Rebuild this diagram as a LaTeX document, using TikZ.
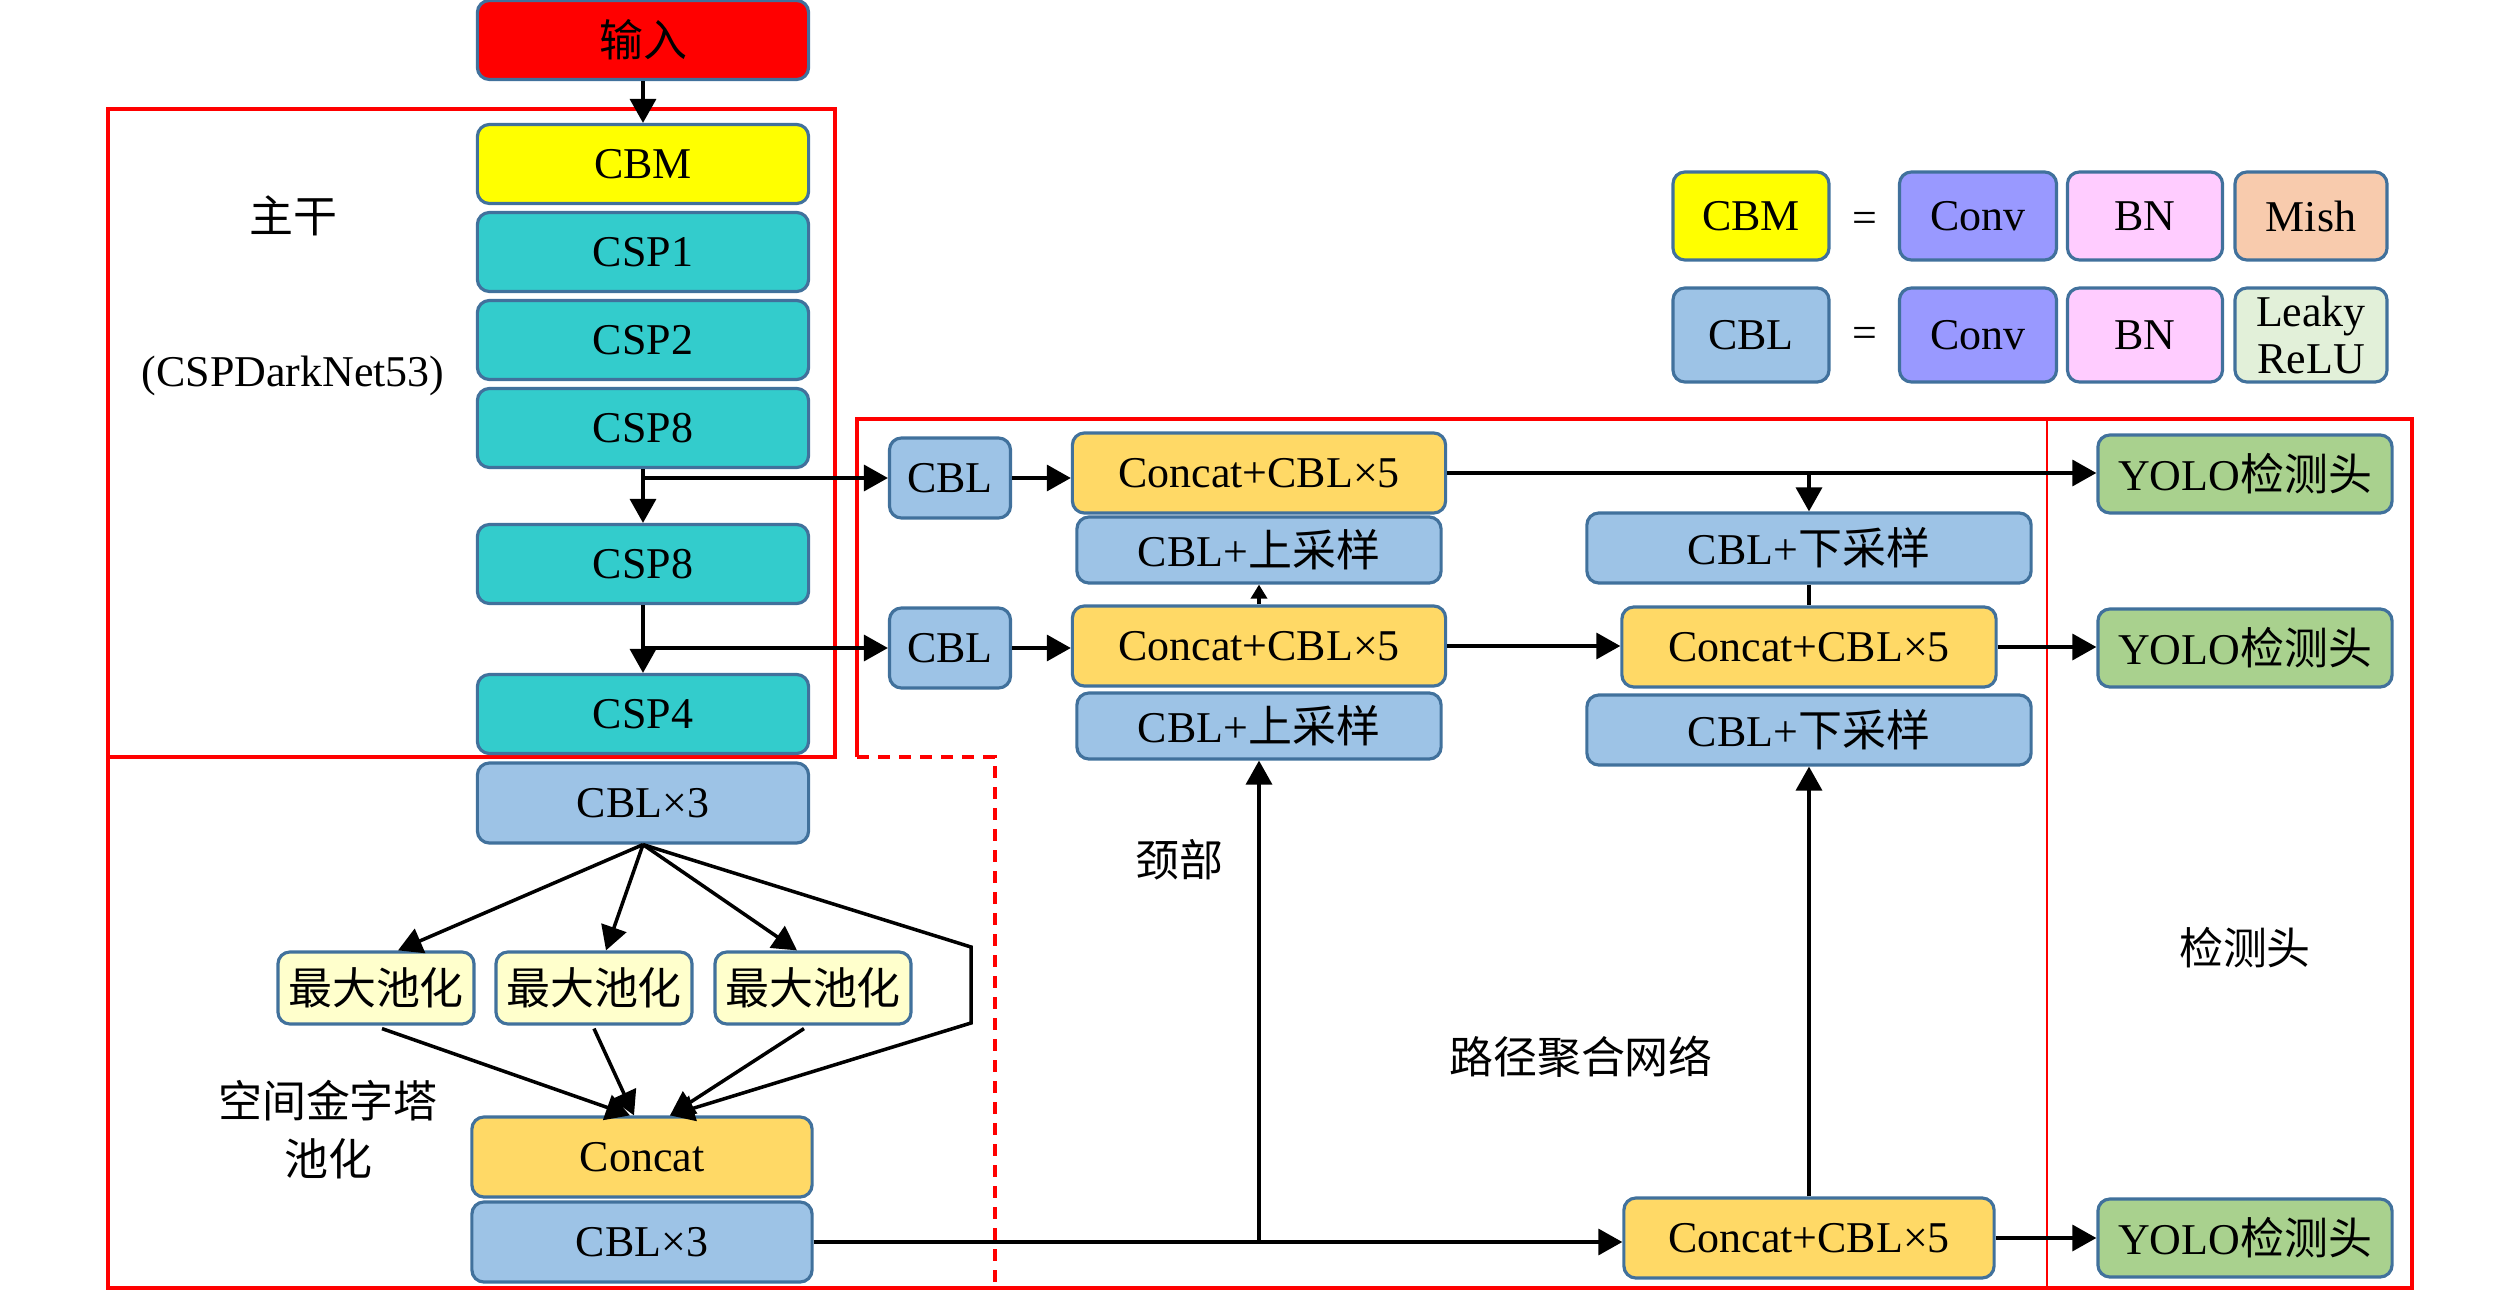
\documentclass[tikz,border=0pt]{standalone}
\usepackage{fontspec}
\setmainfont{Liberation Serif}
\newfontfamily\cjk{Noto Sans CJK SC}
\usetikzlibrary{arrows.meta,calc}
\definecolor{bord}{HTML}{41719C}
\definecolor{cred}{HTML}{FF0000}
\definecolor{cyel}{HTML}{FFFF00}
\definecolor{ccsp}{HTML}{33CCCC}
\definecolor{ccbl}{HTML}{9DC3E6}
\definecolor{ccat}{HTML}{FFD966}
\definecolor{cmp}{HTML}{FFFFCC}
\definecolor{cconv}{HTML}{9999FF}
\definecolor{cbn}{HTML}{FFCCFF}
\definecolor{cmish}{HTML}{F8CBAD}
\definecolor{crelu}{HTML}{E2F0D9}
\definecolor{cyolo}{HTML}{A9D18E}
\begin{document}
\begin{tikzpicture}[x=0.01cm,y=-0.01cm,
  blk/.style={draw=bord, line width=0.9pt, rounded corners=0.12cm, inner sep=0pt,
    align=center, font=\fontsize{12.5}{15}\selectfont},
  bb/.style={blk, minimum width=3.31cm, minimum height=0.79cm},
  mpbox/.style={blk, fill=cmp, minimum width=1.96cm, minimum height=0.72cm},
  ccbox/.style={blk, fill=ccat, minimum width=3.73cm, minimum height=0.80cm},
  upbox/.style={blk, fill=ccbl, minimum width=3.64cm, minimum height=0.66cm},
  dnbox/.style={blk, fill=ccbl, minimum width=4.44cm, minimum height=0.70cm},
  yolobox/.style={blk, fill=cyolo, minimum width=2.94cm, minimum height=0.78cm},
  lab/.style={inner sep=0pt, align=center, font=\fontsize{12.5}{15}\selectfont},
  arr/.style={line width=1pt, -{Triangle[length=0.24cm,width=0.26cm]}},
  sarr/.style={line width=1pt, -{Triangle[length=0.14cm,width=0.16cm]}},
  ln/.style={line width=1pt},
  redf/.style={draw=cred, line width=0.9pt},
  redt/.style={draw=cred, line width=0.5pt}
]
\useasboundingbox (0,0) rectangle (2520,1291);

% red frames
\draw[redf] (108,109) rectangle (835,757);
\draw[redf] (857,757) -- (857,419) -- (2412,419) -- (2412,1288) -- (108,1288) -- (108,757);
\draw[redf, dash pattern=on 0.12cm off 0.09cm] (857,757) -- (995,757) -- (995,1288);
\draw[redt] (2047,419) -- (2047,1288);

% backbone
\node[bb, fill=cred] (in) at (643,40) {\cjk 输入};
\node[bb, fill=cyel] (cbm) at (643,164) {CBM};
\node[bb, fill=ccsp] (csp1) at (643,252) {CSP1};
\node[bb, fill=ccsp] (csp2) at (643,340) {CSP2};
\node[bb, fill=ccsp] (csp8a) at (643,428) {CSP8};
\node[bb, fill=ccsp] (csp8b) at (643,564) {CSP8};
\node[bb, fill=ccsp] (csp4) at (643,714) {CSP4};
\node[bb, fill=ccbl, minimum height=0.80cm] (cblx3a) at (643,803) {CBL×3};

% SPP
\node[mpbox] (mp1) at (376,988) {\cjk 最大池化};
\node[mpbox] (mp2) at (594,988) {\cjk 最大池化};
\node[mpbox] (mp3) at (813,988) {\cjk 最大池化};
\node[blk, fill=ccat, minimum width=3.40cm, minimum height=0.80cm] (concat0) at (642,1157) {Concat};
\node[blk, fill=ccbl, minimum width=3.40cm, minimum height=0.80cm] (cblx3b) at (642,1242) {CBL×3};

% neck
\node[blk, fill=ccbl, minimum width=1.21cm, minimum height=0.80cm] (cbl1) at (950,478) {CBL};
\node[blk, fill=ccbl, minimum width=1.21cm, minimum height=0.80cm] (cbl2) at (950,648) {CBL};
\node[ccbox] (cc1) at (1259,473) {Concat+CBL×5};
\node[upbox] (up1) at (1259,550) {CBL+{\cjk 上采样}};
\node[ccbox] (cc2) at (1259,646) {Concat+CBL×5};
\node[upbox] (up2) at (1259,726) {CBL+{\cjk 上采样}};
\node[dnbox] (dn1) at (1809,548) {CBL+{\cjk 下采样}};
\node[ccbox, minimum width=3.74cm] (cc3) at (1809,647) {Concat+CBL×5};
\node[dnbox] (dn2) at (1809,730) {CBL+{\cjk 下采样}};
\node[ccbox, minimum width=3.70cm] (cc4) at (1809,1238) {Concat+CBL×5};

% heads
\node[yolobox] (yolo1) at (2245,474) {YOLO{\cjk 检测头}};
\node[yolobox] (yolo2) at (2245,648) {YOLO{\cjk 检测头}};
\node[yolobox] (yolo3) at (2245,1238) {YOLO{\cjk 检测头}};

% legend
\node[blk, fill=cyel, minimum width=1.56cm, minimum height=0.88cm] (lcbm) at (1751,216) {CBM};
\node[lab] (eq1) at (1865,222) {=};
\node[blk, fill=cconv, minimum width=1.57cm, minimum height=0.88cm] (lconv1) at (1978,216) {Conv};
\node[blk, fill=cbn, minimum width=1.55cm, minimum height=0.88cm] (lbn1) at (2145,216) {BN};
\node[blk, fill=cmish, minimum width=1.52cm, minimum height=0.88cm] (lmish) at (2311,216) {Mish};
\node[blk, fill=ccbl, minimum width=1.56cm, minimum height=0.94cm] (lcbl) at (1751,335) {CBL};
\node[lab] (eq2) at (1865,337) {=};
\node[blk, fill=cconv, minimum width=1.57cm, minimum height=0.94cm] (lconv2) at (1978,335) {Conv};
\node[blk, fill=cbn, minimum width=1.55cm, minimum height=0.94cm] (lbn2) at (2145,335) {BN};
\node[blk, fill=crelu, minimum width=1.52cm, minimum height=0.94cm, font=\fontsize{12.5}{13.6}\selectfont] (lrelu) at (2311,335) {Leaky\\ReLU};

% labels
\node[lab] (tbb) at (293,216) {\cjk 主干};
\node[lab] (tcsp) at (293,376) {(CSPDarkNet53)};
\node[lab, font=\cjk\fontsize{12.5}{16.5}\selectfont] (tspp) at (328,1130) {空间金字塔\\池化};
\node[lab] (tneck) at (1179,860) {\cjk 颈部};
\node[lab] (tpan) at (1581,1057) {\cjk 路径聚合网络};
\node[lab] (thead) at (2245,948) {\cjk 检测头};

% backbone connectors
\draw[arr] (in) -- (cbm);
\draw[arr] (csp8a) -- (csp8b);
\draw[arr] (csp8b) -- (csp4);
\draw[arr] (csp8a.south |- cbl1.west) -- (cbl1.west);
\draw[arr] (csp8b.south |- cbl2.west) -- (cbl2.west);

% SPP connectors
\coordinate (r1) at (971,947);
\coordinate (r2) at (971,1023);
\draw[arr] (cblx3a.south) -- ([xshift=0.22cm]mp1.north);
\draw[arr] (cblx3a.south) -- ([xshift=0.12cm]mp2.north);
\draw[arr] (cblx3a.south) -- ([xshift=-0.16cm]mp3.north);
\draw[arr] (cblx3a.south) -- (r1) -- (r2) -- ([xshift=0.28cm]concat0.north);
\draw[arr] ([xshift=0.06cm,yshift=-0.03cm]mp1.south) -- ([xshift=-0.12cm]concat0.north);
\draw[arr] ([yshift=-0.03cm]mp2.south) -- ([xshift=-0.08cm]concat0.north);
\draw[arr] ([xshift=-0.09cm,yshift=-0.03cm]mp3.south) -- ([xshift=0.28cm]concat0.north);

% neck connectors
\draw[arr] (cbl1.east) -- (cbl1.east -| cc1.west);
\draw[arr] (cbl2.east) -- (cbl2.east -| cc2.west);
\draw[sarr] (cc2.north) -- (up1.south);
\draw[arr] (cc1.east) -- (cc1.east -| yolo1.west);
\draw[arr] (cc1.east -| dn1.north) -- (dn1.north);
\draw[ln] (dn1.south) -- (cc3.north);
\draw[arr] (cc2.east) -- (cc2.east -| cc3.west);
\draw[arr] (cc3.east) -- (cc3.east -| yolo2.west);
\draw[arr] (cblx3b.east) -- (cblx3b.east -| cc4.west);
\draw[arr] (cblx3b.east -| up2.south) -- (up2.south);
\draw[arr] (cc4.north) -- (dn2.south);
\draw[arr] (cc4.east) -- (cc4.east -| yolo3.west);
\end{tikzpicture}
\end{document}
